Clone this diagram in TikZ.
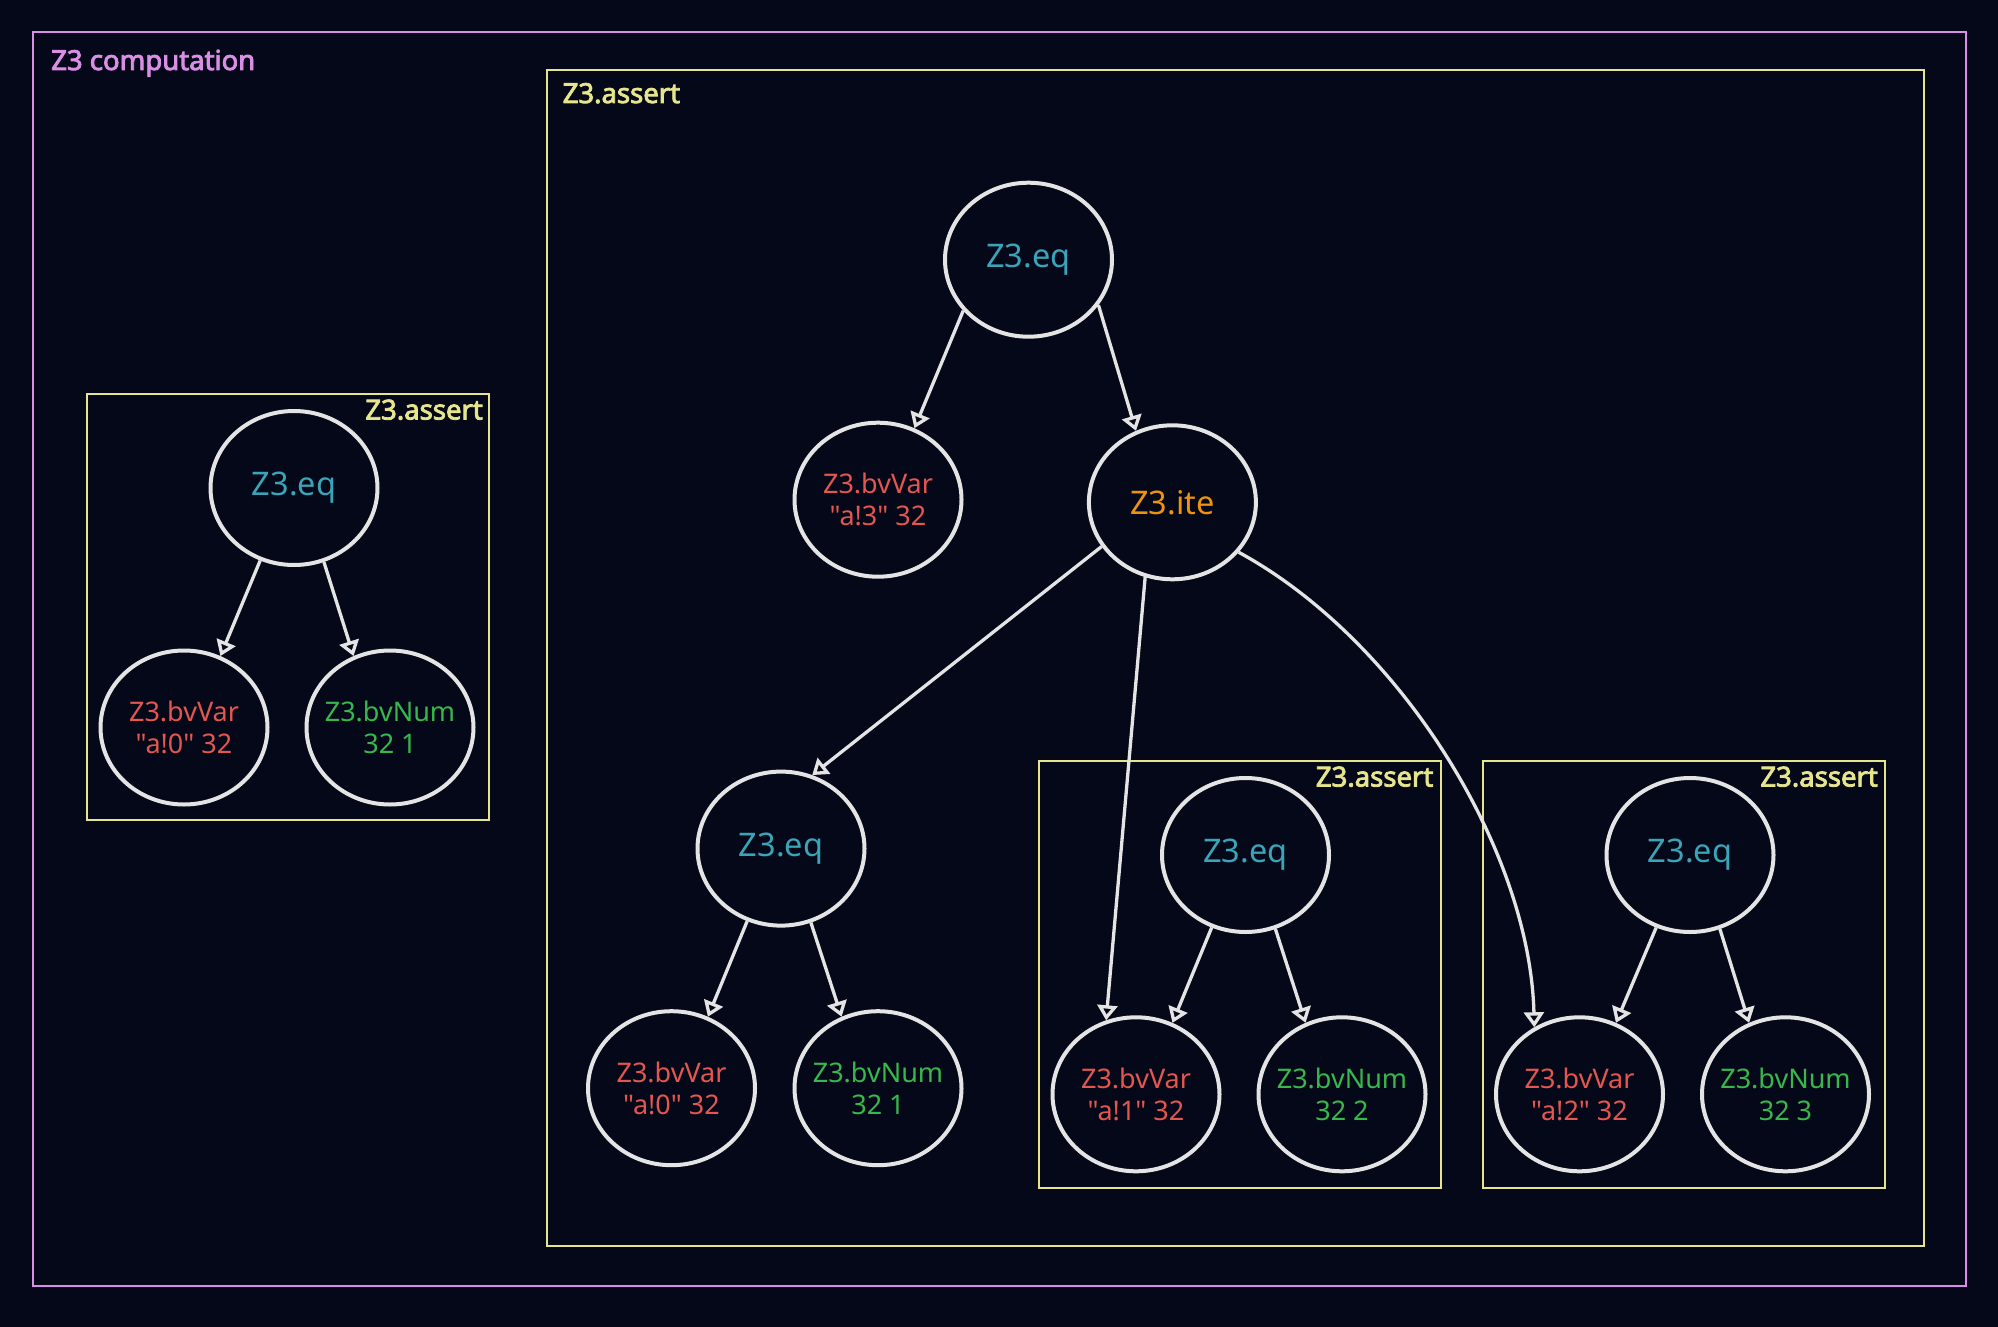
\documentclass[tikz,border=0pt]{standalone}
\usepackage{fontspec}
\setmainfont{Noto Sans}[Ligatures=TeXOff]
\newfontfamily\lblfont{Noto Sans}[Ligatures=TeXOff, FakeBold=3]
\usetikzlibrary{arrows.meta,shapes.geometric}
\definecolor{bgc}{HTML}{040818}
\definecolor{violetc}{HTML}{DA8EE6}
\definecolor{yellowc}{HTML}{E6E48C}
\definecolor{cyanc}{HTML}{3AA5B8}
\definecolor{redc}{HTML}{E4564F}
\definecolor{greenc}{HTML}{38B84C}
\definecolor{orangec}{HTML}{F0930A}
\definecolor{edgec}{HTML}{E4E4E4}
\begin{document}
\begin{tikzpicture}[x=1pt,y=-1pt,
  nd/.style={draw=edgec, line width=4pt, ellipse, minimum width=167pt, minimum height=154pt, inner xsep=-30pt, inner ysep=0pt, align=center},
  eqn/.style={nd, text=cyanc, font=\fontsize{32.5}{38}\selectfont},
  iten/.style={nd, text=orangec, font=\fontsize{32.5}{38}\selectfont},
  varn/.style={nd, text=redc, font=\fontsize{27}{32}\selectfont},
  numn/.style={nd, text=greenc, font=\fontsize{27}{32}\selectfont},
  edge/.style={draw=edgec, line width=3.3pt, -{Triangle[open, length=15pt, width=20pt]}},
  boxy/.style={draw=yellowc, line width=2pt, rectangle, inner sep=0pt, anchor=north west},
  boxv/.style={draw=violetc, line width=2pt, rectangle, inner sep=0pt, anchor=north west},
  lbly/.style={text=yellowc, font=\lblfont\fontsize{27.5}{30}\selectfont, inner sep=0pt},
  lblv/.style={text=violetc, font=\lblfont\fontsize{27.5}{30}\selectfont, inner sep=0pt}]
\fill[bgc] (0,0) rectangle (1998,1327);
\useasboundingbox (0,0) rectangle (1998,1327);

% containers
\node[boxv, minimum width=1933pt, minimum height=1254pt] (outer) at (32,31) {};
\node[lblv, anchor=base west] (outerlbl) at ([xshift=19pt,yshift=-39pt]outer.north west) {Z3 computation};

\node[boxy, minimum width=1377pt, minimum height=1176pt] (big) at (545.5,69) {};
\node[lbly, anchor=base west] (biglbl) at ([xshift=17pt,yshift=-34pt]big.north west) {Z3.assert};

\node[boxy, minimum width=402pt, minimum height=426pt] (boxA) at (86,392.5) {};
\node[lbly, anchor=base east] (boxAlbl) at ([xshift=-7pt,yshift=-27pt]boxA.north east) {Z3.assert};

\node[boxy, minimum width=402pt, minimum height=427pt] (boxB) at (1037.5,759.5) {};
\node[lbly, anchor=base east] (boxBlbl) at ([xshift=-8pt,yshift=-27pt]boxB.north east) {Z3.assert};

\node[boxy, minimum width=402pt, minimum height=427pt] (boxC) at (1482,759.5) {};
\node[lbly, anchor=base east] (boxClbl) at ([xshift=-8pt,yshift=-27pt]boxC.north east) {Z3.assert};

% left tree
\node[eqn] (eqA) at (294,488) {Z3.eq};
\node[varn] (varA) at (184,727.5) {Z3.bvVar\\"a!0" 32};
\node[numn] (numA) at (390,727.5) {Z3.bvNum\\32 1};

% main tree
\node[eqn] (eqT) at (1028.5,259.7) {Z3.eq};
\node[varn] (var3) at (878,499.7) {Z3.bvVar\\"a!3" 32};
\node[iten] (ite) at (1172.4,502.3) {Z3.ite};

\node[eqn] (eqM) at (781,848.6) {Z3.eq};
\node[varn] (var0) at (671.5,1088.2) {Z3.bvVar\\"a!0" 32};
\node[numn] (num1) at (878,1088.2) {Z3.bvNum\\32 1};

\node[eqn] (eqB) at (1245.5,855) {Z3.eq};
\node[varn] (var1) at (1136,1094.3) {Z3.bvVar\\"a!1" 32};
\node[numn] (num2) at (1342,1094.3) {Z3.bvNum\\32 2};

\node[eqn] (eqC) at (1690,855) {Z3.eq};
\node[varn] (var2) at (1579.5,1094.3) {Z3.bvVar\\"a!2" 32};
\node[numn] (num3) at (1785.5,1094.3) {Z3.bvNum\\32 3};

% edges
\draw[edge] (eqA.245) -- (varA.63);
\draw[edge] (eqA.292) -- (numA.117);

\draw[edge] (eqT.218) -- (var3.63);
\draw[edge] (eqT.327) -- (ite.117);

\draw[edge] (ite.212) -- (eqM.67);
\draw[edge] (ite.250) -- (var1.112);
\draw[edge] (ite.323) .. controls (1400,640) and (1530,850) .. (var2.124);

\draw[edge] (eqM.245) -- (var0.63);
\draw[edge] (eqM.292) -- (num1.117);

\draw[edge] (eqB.245) -- (var1.63);
\draw[edge] (eqB.292) -- (num2.117);

\draw[edge] (eqC.245) -- (var2.63);
\draw[edge] (eqC.292) -- (num3.117);
\end{tikzpicture}
\end{document}
